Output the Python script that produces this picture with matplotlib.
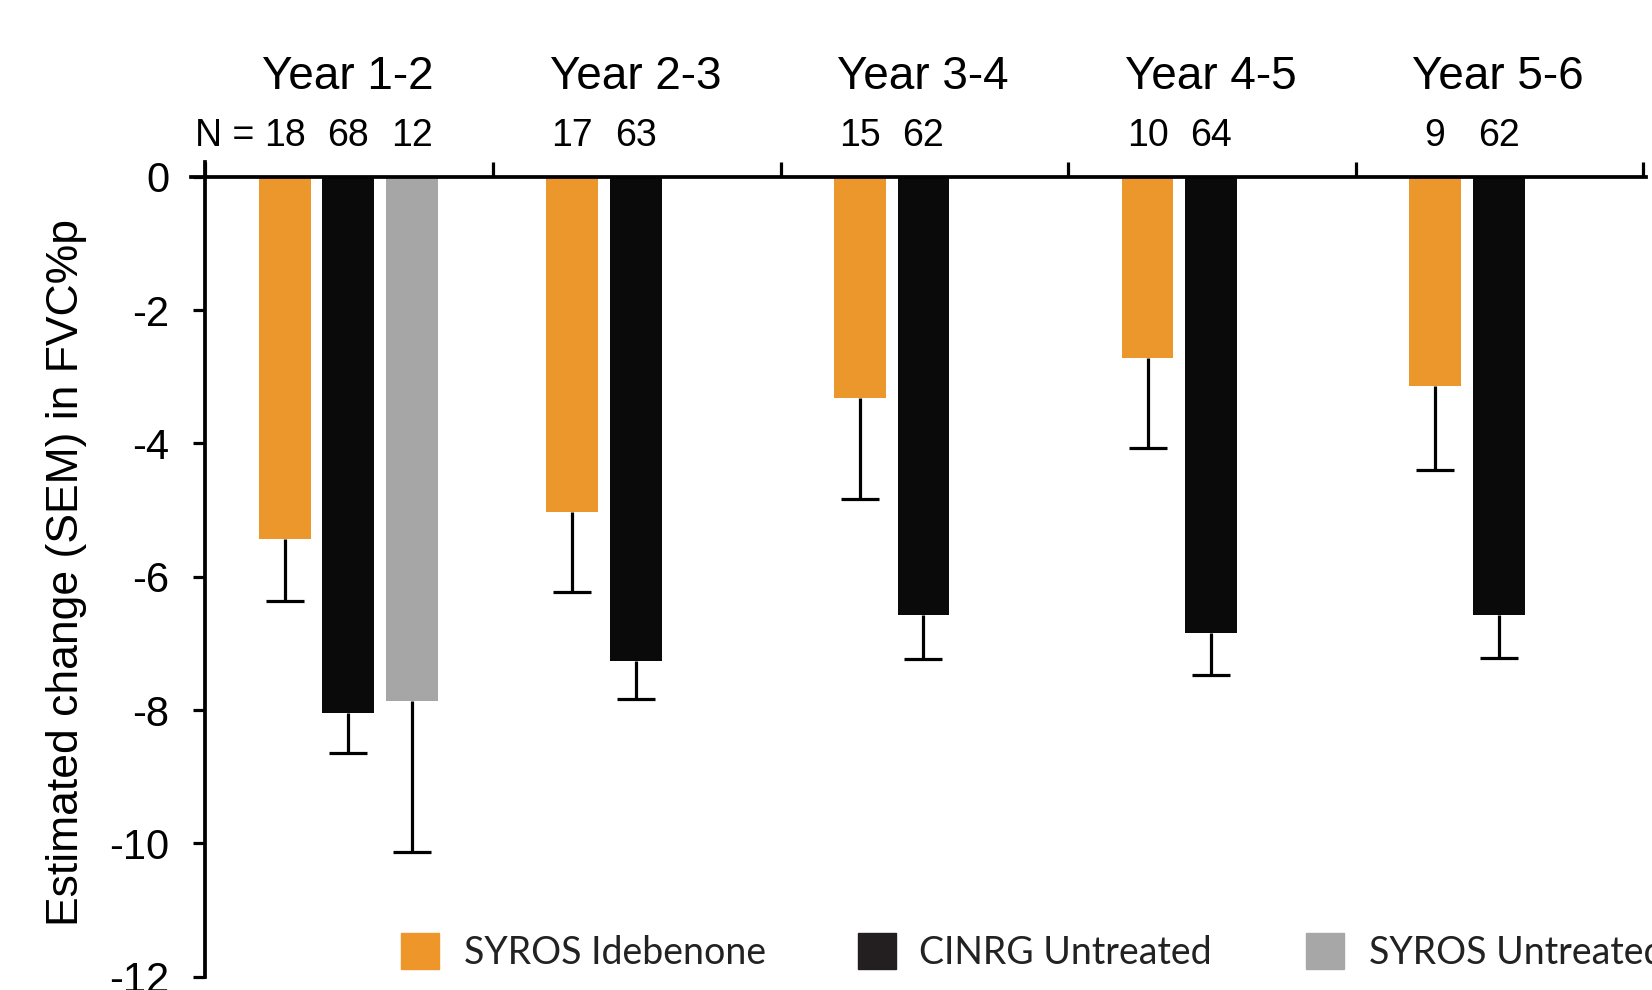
import numpy as np
import matplotlib
matplotlib.use("Agg")
import matplotlib.pyplot as plt
from matplotlib.patches import Rectangle

# ---- data -------------------------------------------------------------
periods = ["Year 1-2", "Year 2-3", "Year 3-4", "Year 4-5", "Year 5-6"]
series_names = ["SYROS Idebenone", "CINRG Untreated", "SYROS Untreated"]

idebenone_mean = [-5.43, -5.03, -3.31, -2.72, -3.13]
idebenone_sem = [0.93, 1.20, 1.52, 1.35, 1.27]
idebenone_n = [18, 17, 15, 10, 9]

cinrg_mean = [-8.05, -7.26, -6.58, -6.85, -6.58]
cinrg_sem = [0.59, 0.57, 0.65, 0.62, 0.64]
cinrg_n = [68, 63, 62, 64, 62]

syros_untreated_mean = [-7.86]
syros_untreated_sem = [2.27]
syros_untreated_n = [12]

y_ticks = [0, -2, -4, -6, -8, -10, -12]

# ---- style ------------------------------------------------------------
ORANGE = "#EC972C"
BLACK = "#0A0A0A"
GRAY = "#A6A6A6"
LEG_ORANGE = "#EF962A"
LEG_BLACK = "#231F20"
LEG_GRAY = "#A7A7A7"

plt.rcParams["font.family"] = ["Liberation Sans", "DejaVu Sans"]

W, H = 1652, 990
fig = plt.figure(figsize=(W / 100, H / 100), dpi=100)
ax = fig.add_axes([0.1156, 0.01343, 0.8809, 0.8227])

bar_w = 0.18
offsets = [0.276, 0.497, 0.719]
groups = np.arange(len(periods))
LW = 2.3


def draw_series(x, mean, sem, color):
    x = np.asarray(x, dtype=float)
    mean = np.asarray(mean, dtype=float)
    sem = np.asarray(sem, dtype=float)
    ax.bar(x, mean, width=bar_w, color=color, linewidth=0, zorder=2)
    eb = ax.errorbar(x, mean, yerr=[sem, np.zeros_like(sem)], fmt="none",
                     ecolor="black", elinewidth=LW, capsize=14,
                     capthick=LW, zorder=3)
    # one-sided error bars: hide the cap sitting on the bar end
    for cap in eb[1]:
        if np.allclose(cap.get_ydata(), mean):
            cap.set_visible(False)
    return x


x_ide = draw_series(groups + offsets[0], idebenone_mean, idebenone_sem, ORANGE)
x_cin = draw_series(groups + offsets[1], cinrg_mean, cinrg_sem, BLACK)
x_syu = draw_series(groups[:1] + offsets[2], syros_untreated_mean,
                    syros_untreated_sem, GRAY)

# ---- axes -------------------------------------------------------------
ax.set_xlim(-0.05, 5.01)
ax.set_ylim(-12, 0.22)
ax.spines["right"].set_visible(False)
ax.spines["bottom"].set_visible(False)
ax.spines["top"].set_position(("data", 0))
ax.spines["left"].set_position(("data", 0))
for s in ("top", "left"):
    ax.spines[s].set_linewidth(2.7)
    ax.spines[s].set_zorder(4)

ax.xaxis.set_ticks_position("top")
ax.set_xticks(np.arange(0, len(periods) + 1))
ax.tick_params(axis="x", which="both", direction="out", length=11, width=LW,
               labeltop=False, labelbottom=False)
ax.set_yticks(y_ticks)
ax.set_yticklabels([str(t) for t in y_ticks])
ax.tick_params(axis="y", direction="out", length=9, width=LW, pad=17,
               labelsize=30)

ax.set_ylabel("Estimated change (SEM) in FVC%p", fontsize=32, va="center")
ax.yaxis.set_label_coords(-0.0858, 0.496)

# ---- period headers and sample sizes ---------------------------------
year_y = 1.50
n_y = 0.62
for i, p in enumerate(periods):
    ax.text(i + 0.495, year_y, p, ha="center", va="center", fontsize=33,
            clip_on=False)
for xs, ns in ((x_ide, idebenone_n), (x_cin, cinrg_n), (x_syu, syros_untreated_n)):
    for x, n in zip(xs, ns):
        ax.text(x, n_y, str(n), ha="center", va="center", fontsize=27,
                clip_on=False)
ax.annotate("N =", xy=(x_ide[0], n_y), xycoords="data", xytext=(-22, 0),
            textcoords="offset points", ha="right", va="center", fontsize=27,
            annotation_clip=False)

# ---- legend row -------------------------------------------------------
leg_colors = [LEG_ORANGE, LEG_BLACK, LEG_GRAY]
leg_box_x = [401, 858, 1306]
leg_text_x = [464, 919, 1369]
box_top, box_bot = 933, 969
for name, c, bx, tx in zip(series_names, leg_colors, leg_box_x, leg_text_x):
    fig.patches.append(Rectangle((bx / W, 1 - box_bot / H), 38 / W,
                                 (box_bot - box_top) / H, color=c,
                                 transform=fig.transFigure, figure=fig))
    fig.text(tx / W, 1 - 953 / H, name, ha="left", va="center",
             fontsize=27, family=["Lato", "DejaVu Sans"], color="#222222")

fig.savefig("out.png", dpi=100)
